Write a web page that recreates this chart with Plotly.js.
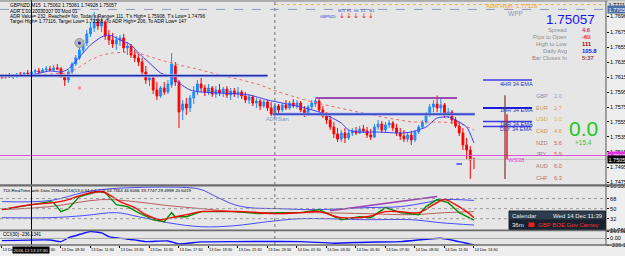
<!DOCTYPE html>
<html>
<head>
<meta charset="utf-8">
<script src="https://cdn.plot.ly/plotly-3.0.1.min.js"></script>
<style>
html,body{margin:0;padding:0;background:#eeeeee;overflow:hidden}
#chart{width:625px;height:256px}
</style>
</head>
<body>
<div id="chart"></div>
<script>
// GBPNZD M15 bars, one every 15 minutes from 13 Dec 2016 05:30
const barOpen = [1.76165,1.76152,1.76179,1.76152,1.76165,1.76192,1.76165,1.76205,1.76192,1.76218,
1.76232,1.76218,1.76245,1.76258,1.76245,1.76272,1.76258,1.76165,1.76112,1.76218,
1.76325,1.76405,1.76511,1.76604,1.76724,1.76804,1.76883,1.76830,1.76883,1.76697,
1.76644,1.76591,1.76644,1.76671,1.76538,1.76564,1.76444,1.76405,1.76351,1.76218,
1.76112,1.76139,1.75979,1.75899,1.76006,1.75952,1.76046,1.76298,1.76085,1.75713,
1.75793,1.75740,1.75873,1.75952,1.76059,1.76006,1.75952,1.76006,1.75926,1.75979,
1.75939,1.75992,1.75913,1.75966,1.75926,1.75952,1.75899,1.75846,1.75886,1.75806,
1.75833,1.75766,1.75820,1.75740,1.75657,1.75766,1.75713,1.75780,1.75740,1.75806,
1.75766,1.75806,1.75713,1.75660,1.75753,1.75793,1.75833,1.75713,1.75633,1.75580,
1.75487,1.75394,1.75327,1.75407,1.75341,1.75407,1.75434,1.75407,1.75461,1.75434,
1.75381,1.75354,1.75487,1.75527,1.75447,1.75514,1.75540,1.75474,1.75407,1.75367,
1.75327,1.75381,1.75314,1.75420,1.75487,1.75553,1.75647,1.75753,1.75793,1.75740,
1.75780,1.75647,1.75686,1.75580,1.75500,1.75407,1.75248,1.75181,1.75062];
const barHigh = [1.76192,1.76192,1.76205,1.76192,1.76205,1.76218,1.76218,1.76245,1.76232,1.76258,
1.76272,1.76272,1.76298,1.76298,1.76312,1.76325,1.76285,1.76192,1.76245,1.76351,
1.76444,1.76564,1.76644,1.76777,1.76883,1.77016,1.76977,1.76937,1.76910,1.76777,
1.76737,1.76697,1.76711,1.76724,1.76617,1.76591,1.76511,1.76458,1.76405,1.76298,
1.76179,1.76165,1.76085,1.76032,1.76085,1.76112,1.76471,1.76351,1.76112,1.75846,
1.75873,1.75913,1.76032,1.76112,1.76139,1.76046,1.76059,1.76032,1.76032,1.76059,
1.76019,1.76032,1.76006,1.76006,1.76019,1.75979,1.75952,1.75926,1.75913,1.75873,
1.75859,1.75846,1.75846,1.75820,1.75806,1.75793,1.75806,1.75846,1.75833,1.75859,
1.75846,1.75833,1.75766,1.75780,1.75846,1.75859,1.75859,1.75766,1.75686,1.75647,
1.75553,1.75474,1.75447,1.75474,1.75447,1.75474,1.75487,1.75500,1.75514,1.75487,
1.75461,1.75527,1.75580,1.75567,1.75553,1.75580,1.75567,1.75527,1.75474,1.75447,
1.75407,1.75434,1.75447,1.75514,1.75580,1.75686,1.75793,1.75846,1.75908,1.75873,
1.75806,1.75740,1.75713,1.75620,1.75553,1.75474,1.75341,1.75234,1.75081];
const barLow = [1.76125,1.76125,1.76139,1.76125,1.76139,1.76152,1.76152,1.76179,1.76165,1.76192,
1.76205,1.76205,1.76218,1.76232,1.76232,1.76245,1.76139,1.76032,1.76072,1.76192,
1.76298,1.76378,1.76471,1.76564,1.76684,1.76750,1.76777,1.76750,1.76644,1.76578,
1.76538,1.76511,1.76564,1.76484,1.76444,1.76405,1.76351,1.76298,1.76179,1.76059,
1.76032,1.75926,1.75846,1.75873,1.75913,1.75926,1.76006,1.76032,1.75474,1.75580,
1.75647,1.75686,1.75793,1.75913,1.75952,1.75899,1.75913,1.75886,1.75873,1.75899,
1.75886,1.75873,1.75846,1.75886,1.75873,1.75859,1.75806,1.75793,1.75766,1.75740,
1.75713,1.75740,1.75700,1.75633,1.75633,1.75660,1.75686,1.75713,1.75713,1.75740,
1.75727,1.75686,1.75620,1.75633,1.75713,1.75753,1.75686,1.75607,1.75527,1.75447,
1.75341,1.75288,1.75288,1.75274,1.75314,1.75367,1.75381,1.75394,1.75407,1.75341,
1.75314,1.75341,1.75447,1.75407,1.75420,1.75474,1.75434,1.75367,1.75314,1.75288,
1.75288,1.75248,1.75288,1.75394,1.75461,1.75527,1.75620,1.75686,1.75686,1.75673,
1.75607,1.75607,1.75527,1.75474,1.75367,1.75181,1.75048,1.74796,1.74928];
const barClose = [1.76152,1.76179,1.76152,1.76165,1.76192,1.76165,1.76205,1.76192,1.76218,1.76232,
1.76218,1.76245,1.76258,1.76245,1.76272,1.76258,1.76165,1.76112,1.76218,1.76325,
1.76405,1.76511,1.76604,1.76724,1.76804,1.76883,1.76830,1.76883,1.76697,1.76644,
1.76591,1.76644,1.76671,1.76538,1.76564,1.76444,1.76405,1.76351,1.76218,1.76112,
1.76139,1.75979,1.75899,1.76006,1.75952,1.76059,1.76325,1.76085,1.75686,1.75793,
1.75740,1.75873,1.75952,1.76059,1.76006,1.75952,1.76006,1.75926,1.75979,1.75939,
1.75992,1.75913,1.75966,1.75926,1.75952,1.75899,1.75846,1.75886,1.75806,1.75833,
1.75766,1.75820,1.75740,1.75660,1.75766,1.75713,1.75780,1.75740,1.75806,1.75766,
1.75806,1.75713,1.75660,1.75753,1.75806,1.75833,1.75713,1.75633,1.75580,1.75487,
1.75394,1.75327,1.75407,1.75341,1.75407,1.75434,1.75407,1.75461,1.75434,1.75381,
1.75354,1.75487,1.75527,1.75447,1.75514,1.75540,1.75474,1.75407,1.75367,1.75327,
1.75381,1.75314,1.75420,1.75487,1.75553,1.75647,1.75753,1.75793,1.75740,1.75780,
1.75647,1.75686,1.75580,1.75500,1.75407,1.75248,1.75181,1.75048,1.75057];

// moving averages on the price chart (bar index, value)
const emaFastIdx = [0,8,13,16,18,21,24,27,29,32,35,37,40,43,46,48,51,54,59,67,72,76,81,86,89,92,94,97,102,108,111,115,118,121,123,126,128];
const emaFastVal = [1.76165,1.76179,1.76232,1.76218,1.76258,1.76418,1.76578,1.76684,1.76711,1.76644,1.76578,1.76471,1.76338,1.76205,1.76152,1.76072,1.75979,1.75952,1.75939,1.75913,1.75846,1.75806,1.75753,1.75686,1.75620,1.75540,1.75447,1.75420,1.75420,1.75407,1.75420,1.75487,1.75607,1.75620,1.75580,1.75487,1.75274];
const emaSlowIdx = [0,10,18,21,24,27,30,34,37,43,48,54,59,65,70,75,84,94,103,111,119,124,128];
const emaSlowVal = [1.76152,1.76179,1.76205,1.76285,1.76378,1.76444,1.76471,1.76484,1.76471,1.76378,1.76312,1.76245,1.76179,1.76112,1.76046,1.75952,1.75820,1.75713,1.75620,1.75553,1.75553,1.75540,1.75447];

// price levels
const prevDayOpen = 1.76169;
const dayOpen = 1.75657;
const adrHigh = 1.77116;
const wpp = 1.77050;
const ws38 = 1.75108;
const bid = 1.75057;
const resistLevel = 1.75873;
const dayHigh = 1.75908;
const dayLow = 1.74796;
const emaNames = ['4HR 34 EMA', '1HR 34 EMA', '1HR 34 EMA', 'DLY 34 EMA'];
const emaLevels = [1.76112, 1.75740, 1.75560, 1.75494];

// signal markers on price chart
const markIdx = [21, 21, 124];
const markVal = [1.76604, 1.76006, 1.74995];

// TDI sub-window (bar index, value)
const tdiUpIdx = [0,13,22,27,36,50,54,58,63,67,75,85,99,108,115,119,128];
const tdiUpVal = [62.6,64.4,78.8,84.2,87.8,87.8,84.2,71.6,57.2,51.8,50,48.2,51.8,53.6,60.8,66.0,64.7364];
const tdiLoIdx = [0,13,22,31,37,45,54,63,72,81,99,111,119,128];
const tdiLoVal = [33.8,33.8,37.4,42.8,35.6,24.8,17.6,19.4,26.6,32,30.2,30.2,24.8,20.6419];
const tdiBaseIdx = [0,13,27,36,45,54,63,72,85,99,111,120,128];
const tdiBaseVal = [48.2,53.6,66.2,62.6,55.4,50,44.6,42.8,42.8,41,39.2,42.8,44.6066];
const tdiGreenIdx = [0,13,14,16,18,21,26,28,31,34,37,41,44,46,47,50,54,63,70,75,81,86,92,97,100,104,108,113,115,118,121,124,128];
const tdiGreenVal = [48.2,62.6,60.8,44.6,50,71.6,80.6,78.8,57.2,53.6,42.8,30.2,26.6,42.8,35.6,35.6,44.6,44.6,41,42.8,42.8,48.2,30.2,35.6,33.8,51.8,42.8,39.2,53.6,66.2,60.8,42.8,29.4998];
const tdiRedIdx = [0,8,14,18,22,27,29,32,36,39,43,46,50,54,65,75,81,86,92,99,104,108,113,117,120,123,126,128];
const tdiRedVal = [48.2,57.2,60.8,66.2,75.2,80.6,75.2,62.6,51.8,39.2,30.2,33.8,39.2,44.6,44.6,41,42.8,44.6,33.8,35.6,44.6,44.6,42.8,57.2,66.2,57.2,44.6,33.7747];
const tdiTrendIdx = [89, 118];
const tdiTrendVal = [46.4, 71.6];
const tdiLevels = [68, 50, 32];

// CCI(30) sub-window
const cciIdx = [0,13,16,18,24,27,29,36,39,45,48,54,63,81,90,99,108,115,119,126,128];
const cciVal = [-79,-54,-115,18,243,197,64,-54,-115,-90,-197,-125,-115,-115,-172,-136,-115,-29,7,-172,-236.1341];

// axis labels
const priceTicks = [1.76960,1.76750,1.76550,1.76350,1.76150,1.75950,1.75750,1.75555,1.75355,1.75155,1.74955,1.74755];
const tdiTicks = [90.5513, 68, 50, 32, 11.7624];
const cciTicks = [266.8284, 0, -236.1341];

// currency strength panel
const ccyNames = ['GBP','EUR','USD','CAD','NZD','JPY','AUD','CHF'];
const ccyValues = [2.0, 2.7, 3.0, 4.6, 5.6, 5.9, 6.0, 6.3];

// ---------------------------------------------------------------
const T0 = Date.UTC(2016, 11, 13, 5, 30);
const BAR_MS = 15 * 60 * 1000;
function barTime(i) {
  return new Date(T0 + Math.round(i * BAR_MS)).toISOString().slice(0, 19).replace('T', ' ');
}
const times = barOpen.map((_, i) => barTime(i));

// pixel helpers for the 606 x 243 plotting frame
const W = 606, PH = 243, PB = 245;
const px = x => x / W;
const py = y => (PB - y) / PH;
const FONT = 'Liberation Sans, Arial, sans-serif';

const traces = [
  {type:'candlestick', x:times, open:barOpen, high:barHigh, low:barLow, close:barClose,
   xaxis:'x', yaxis:'y', whiskerwidth:0, hoverinfo:'skip',
   increasing:{line:{color:'#1e8cff', width:1}, fillcolor:'#1e8cff'},
   decreasing:{line:{color:'#ff0000', width:1}, fillcolor:'#ff0000'}},
  {type:'scatter', mode:'lines', x:emaSlowIdx.map(barTime), y:emaSlowVal, yaxis:'y',
   line:{color:'#f06a6a', width:1, dash:'dot'}, hoverinfo:'skip'},
  {type:'scatter', mode:'lines', x:emaFastIdx.map(barTime), y:emaFastVal, yaxis:'y',
   line:{color:'#3b3bff', width:1, shape:'spline', smoothing:0.6}, hoverinfo:'skip'},
  {type:'scatter', mode:'markers', x:[barTime(markIdx[0])], y:[markVal[0]], yaxis:'y',
   marker:{symbol:'circle', size:9, color:'#b8b8b8', line:{color:'#9a9a9a', width:1}}, hoverinfo:'skip'},
  {type:'scatter', mode:'markers', x:[barTime(markIdx[0])], y:[markVal[0]], yaxis:'y',
   marker:{symbol:'circle', size:3, color:'#2020c0'}, hoverinfo:'skip'},
  {type:'scatter', mode:'markers', x:[barTime(markIdx[1])], y:[markVal[1]], yaxis:'y',
   marker:{symbol:'square', size:3, color:'#f09090'}, hoverinfo:'skip'},
  {type:'scatter', mode:'markers', x:[barTime(markIdx[2])], y:[markVal[2]], yaxis:'y',
   marker:{symbol:'line-ew', size:4, line:{color:'#3050e0', width:1.5}}, hoverinfo:'skip'},

  // TDI
  {type:'scatter', mode:'lines', x:tdiUpIdx.map(barTime), y:tdiUpVal, yaxis:'y2',
   line:{color:'#4a4aff', width:1, shape:'spline'}, hoverinfo:'skip'},
  {type:'scatter', mode:'lines', x:tdiLoIdx.map(barTime), y:tdiLoVal, yaxis:'y2',
   line:{color:'#4a4aff', width:1, shape:'spline'}, hoverinfo:'skip'},
  {type:'scatter', mode:'lines', x:tdiBaseIdx.map(barTime), y:tdiBaseVal, yaxis:'y2',
   line:{color:'#b86060', width:1, shape:'spline'}, hoverinfo:'skip'},
  {type:'scatter', mode:'lines', x:tdiTrendIdx.map(barTime), y:tdiTrendVal, yaxis:'y2',
   line:{color:'#9a40b0', width:1.5}, hoverinfo:'skip'},
  {type:'scatter', mode:'lines', x:tdiGreenIdx.map(barTime), y:tdiGreenVal, yaxis:'y2',
   line:{color:'#008a00', width:1.4}, hoverinfo:'skip'},
  {type:'scatter', mode:'lines', x:tdiRedIdx.map(barTime), y:tdiRedVal, yaxis:'y2',
   line:{color:'#ff0000', width:1.4, shape:'spline'}, hoverinfo:'skip'},

  // CCI
  {type:'scatter', mode:'lines', x:cciIdx.map(barTime), y:cciVal, yaxis:'y3',
   line:{color:'#1010ff', width:1.4, shape:'spline', smoothing:0.5}, hoverinfo:'skip'}
];

const shapes = [];
function hline(yref, y, x0, x1, color, width, dash, xref) {
  shapes.push({type:'line', xref:xref||'paper', yref, x0, x1, y0:y, y1:y,
               line:{color, width, dash:dash||'solid'}, layer:'above'});
}
// price levels
hline('y', wpp, 0, 1, '#8e9cc0', 1, 'dash');
hline('y', adrHigh, barTime(74), barTime(163.8), '#f0b040', 1, 'dot', 'x');
hline('y', prevDayOpen, barTime(-0.6), barTime(72), '#97a4ec', 3, 'solid', 'x');
hline('y', prevDayOpen, barTime(-0.6), barTime(72), '#1c2a9a', 1.2, 'solid', 'x');
hline('y', dayOpen, barTime(73.4), barTime(128.2), '#97a4ec', 3, 'solid', 'x');
hline('y', dayOpen, barTime(73.4), barTime(128.2), '#2233bb', 1.2, 'solid', 'x');
hline('y', resistLevel, barTime(85), barTime(123.4), '#9a4cb0', 2, 'solid', 'x');
hline('y', bid, 0, 1, '#c4c4c4', 1);
hline('y', ws38, 0, 1, '#e050e0', 1);
emaLevels.forEach((lv, k) => {
  hline('y', lv, px(483), px(532), k === 1 ? '#1a1ad8' : '#3a3ae8', k === 1 ? 2 : 1.4);
});
// today's candle
shapes.push({type:'line', xref:'paper', yref:'y', x0:px(505), x1:px(505), y0:dayLow, y1:dayHigh,
             line:{color:'#7a3434', width:1.2}});
shapes.push({type:'line', xref:'paper', yref:'y', x0:px(507), x1:px(507), y0:bid, y1:dayOpen,
             line:{color:'#ee1010', width:1.4}});
// TDI levels and CCI zero
tdiLevels.forEach(lv => hline('y2', lv, 0, 1, '#9a9a9a', 1, 'dot'));
hline('y3', 0, 0, 1, '#a8a8a8', 1);
// day separator and crosshair
shapes.push({type:'line', xref:'x', yref:'paper', x0:barTime(74), x1:barTime(74), y0:0, y1:1,
             line:{color:'#707070', width:1, dash:'dot'}});
shapes.push({type:'line', xref:'x', yref:'paper', x0:barTime(8), x1:barTime(8), y0:0, y1:py(0),
             line:{color:'#000000', width:1}});
// window frame and sub-window separators
const xEnd = 625 / W;
[[0.4, 1.6], [184.3, 186.4], [229.4, 231.2]].forEach(([a, b]) => {
  shapes.push({type:'rect', xref:'paper', yref:'paper', x0:0, x1:xEnd, y0:py(b), y1:py(a),
               fillcolor:'#6c6c6c', line:{width:0}});
});
shapes.push({type:'line', xref:'paper', yref:'paper', x0:0, x1:xEnd, y0:0, y1:0, line:{color:'#6c6c6c', width:1.5}});
shapes.push({type:'line', xref:'paper', yref:'paper', x0:1, x1:1, y0:0, y1:py(1), line:{color:'#555555', width:1}});
// calendar panel
shapes.push({type:'rect', xref:'paper', yref:'paper', x0:px(509), x1:px(605.5), y0:py(220), y1:py(211),
             fillcolor:'#2c3c4c', line:{color:'#1a2430', width:1}});
shapes.push({type:'rect', xref:'paper', yref:'paper', x0:px(509), x1:px(605.5), y0:py(229.3), y1:py(220),
             fillcolor:'#18222e', line:{color:'#1a2430', width:1}});
shapes.push({type:'rect', xref:'paper', yref:'paper', x0:px(528.5), x1:px(534.5), y0:py(227), y1:py(222.5),
             fillcolor:'#ee2020', line:{width:0}});

const ann = [];
function txt(x, y, text, color, size, anchor, extra) {
  ann.push(Object.assign({xref:'paper', yref:'paper', x:px(x), y:py(y), text, showarrow:false,
    xanchor:anchor||'left', yanchor:'middle', borderpad:0,
    font:{family:FONT, size, color}}, extra||{}));
}
// chart header
const HF = 4.8;
txt(9, 5, 'GBPNZD,M15  1.75062 1.75081 1.74928 1.75057', '#000', HF);
txt(9, 11, 'ADR 1.00 20030307 00 Mod 01', '#000', HF);
txt(9, 16.5, "ADR Value= 232, Reached= No, Today's Range= 111, T's High= 1.75908, T's Low= 1.74796", '#000', HF);
txt(9, 22, 'Target High= 1.77116, Target Low= 1.73588, To ADR High= 206, To ADR Low= 147', '#000', HF);
// timeframe arrows
const tfNames = ['M15','H1','H4','D1','W1'];
const tfX = [341.7, 349, 356.3, 363.7, 371];
tfNames.forEach((t, k) => {
  txt(tfX[k], 11.5, t, '#3040d0', 3.6, 'center');
  txt(tfX[k], 15.8, '&#8595;', '#ff1010', 7, 'center', {font:{family:'DejaVu Sans', size:7, color:'#ff1010'}});
});
txt(337, 16.8, 'GBPNZD', '#3040d0', 3.8, 'right');
// right info block
txt(512, 6, 'ADR High: 1.77116', '#f5a52a', 6, 'center');
txt(515.5, 13, 'WPP', '#8898c0', 6.5, 'center');
txt(570, 19.8, '1.75057', '#1414ff', 13.5, 'center');
const infoLabels = ['Spread','Pips to Open','High to Low','Daily Avg','Bar Closes In'];
const infoValues = ['4.6','-60','111','105.8','5:37'];
const infoColors = ['#c8385a','#ff2a2a','#a80000','#1010ff','#a83a3a'];
const infoY = [29.8, 36.9, 44, 51.1, 58.3];
infoLabels.forEach((l, k) => {
  txt(567.5, infoY[k], l, '#8c8c8c', 5.8, 'right');
  txt(581, infoY[k], infoValues[k], infoColors[k], 5.8, 'left', {font:{family:FONT, size:5.8, color:infoColors[k], weight:'bold'}});
});
// EMA labels
const emaLabelY = [84, 109.5, 124, 128.5];
emaNames.forEach((n, k) => txt(516, emaLabelY[k], n, '#2a36c8', 5.6, 'center'));
// currency strength
const ccyNameCol = ['#7f93b8','#c0965a','#d6a860','#cf8a3c','#a87878','#a87878','#a87878','#a87878'];
const ccyValCol = ['#7aa6e0','#e0a040','#e8b458','#e09634','#c46464','#c46464','#c46464','#c46464'];
ccyNames.forEach((n, k) => {
  const y = 96 + k * 11.67;
  txt(535, y, n, ccyNameCol[k], 5.6, 'left');
  txt(553, y, ccyValues[k].toFixed(1), ccyValCol[k], 5.6, 'left');
});
txt(583.5, 128, '0.0', '#20c820', 21, 'center');
txt(583, 142, '+15.4', '#3cba3c', 6.5, 'center');
txt(507, 160, 'WS38', '#e040e0', 6, 'left');
txt(265, 119, 'ADRStart', '#7e9cc0', 5.4, 'left');
// sub-window headers
txt(2, 190, 'TDI-RealTime with Data 25Nov2016(13,0,34,0,2,7,0) 64.7364 44.6066 33.7747 29.4998 20.6419', '#000', 4.4);
txt(2, 234.2, 'CCI(30) -236.1341', '#000', 4.6);
// calendar text
txt(511, 215.5, 'Calendar', '#e8e8e8', 6, 'left');
txt(603.5, 215.5, 'Wed 14 Dec 11:39', '#e8e8e8', 6, 'right');
txt(511, 225, '36m', '#f0f0f0', 6, 'left');
txt(536.5, 225, 'GBP BOE Gov Carney', '#ff3030', 6, 'left');
// value boxes on the price scale
function scaleBox(yv, text, bg, fg) {
  ann.push({xref:'paper', yref:'y', x:px(607), y:yv, text, showarrow:false, xanchor:'left', yanchor:'middle',
            bgcolor:bg, borderpad:0.5, font:{family:FONT, size:5.5, color:fg}});
}
scaleBox(1.77114, '1.77114', '#d8d8d8', '#000');
scaleBox(wpp, '1.77050', '#4a6ea8', '#fff');
scaleBox(ws38, '1.75108', '#e030e0', '#fff');
scaleBox(bid, '1.75057', '#000', '#fff');
// crosshair time box
ann.push({xref:'x', yref:'paper', x:barTime(8), y:py(249.5), text:'2016.12.13 07:30', showarrow:false,
          xanchor:'center', yanchor:'middle', bgcolor:'#000', borderpad:0.5,
          font:{family:FONT, size:4.4, color:'#fff'}});

const tickFont = {family:FONT, size:5.5, color:'#000'};
const layout = {
  width:625, height:256,
  margin:{l:0, r:19, t:2, b:11, pad:0},
  paper_bgcolor:'#eeeeee', plot_bgcolor:'#e6e6e6',
  showlegend:false, hovermode:false,
  font:{family:FONT, size:6, color:'#000'},
  xaxis:{type:'date', anchor:'y3', range:[barTime(-0.54), barTime(163.8)],
         tickmode:'array', tickvals:Array.from({length:17}, (_, k) => barTime(8 * k)),
         tickformat:'%d %b %H:%M', ticklabelposition:'outside right', tickangle:0,
         ticks:'outside', ticklen:2, tickcolor:'#000', tickfont:{family:FONT, size:3.9, color:'#000'},
         showgrid:false, zeroline:false, showline:false, rangeslider:{visible:false}, fixedrange:true},
  yaxis:{domain:[py(184), 1], side:'right', range:[1.74729, 1.77149],
         tickmode:'array', tickvals:priceTicks, ticktext:priceTicks.map(v => v.toFixed(5)),
         ticks:'outside', ticklen:2, tickcolor:'#000', tickfont:tickFont,
         showgrid:false, zeroline:false, showline:false, fixedrange:true},
  yaxis2:{domain:[py(230), py(186)], side:'right', anchor:'x', range:[11.7624, 90.5513],
          tickmode:'array', tickvals:tdiTicks, ticktext:['90.5513','68','50','32','11.7624'],
          ticks:'outside', ticklen:2, tickcolor:'#000', tickfont:tickFont,
          showgrid:false, zeroline:false, showline:false, fixedrange:true},
  yaxis3:{domain:[0, py(231)], side:'right', anchor:'x', range:[-236.1341, 266.8284],
          tickmode:'array', tickvals:cciTicks, ticktext:['266.8284','0.00','-236.1341'],
          ticks:'outside', ticklen:2, tickcolor:'#000', tickfont:tickFont,
          showgrid:false, zeroline:false, showline:false, fixedrange:true},
  shapes, annotations:ann
};

Plotly.newPlot('chart', traces, layout, {staticPlot:true, displayModeBar:false});
</script>
</body>
</html>
